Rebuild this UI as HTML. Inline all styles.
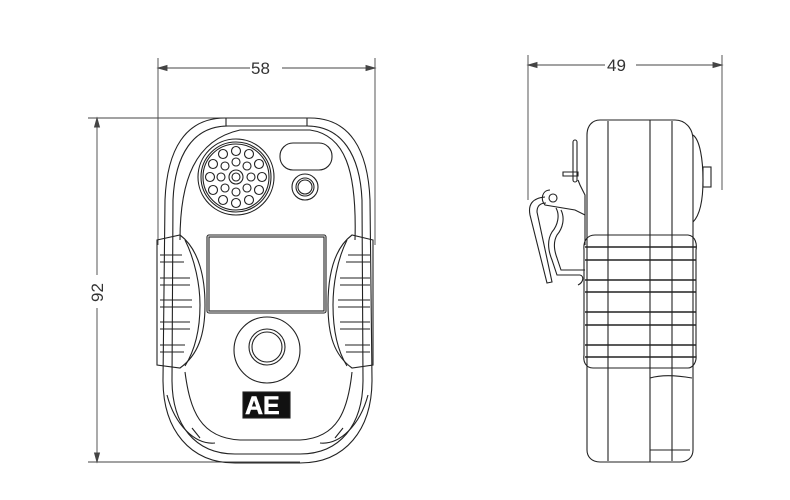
<!DOCTYPE html>
<html><head><meta charset="utf-8"><style>
html,body{margin:0;padding:0;background:#fff;width:790px;height:500px;overflow:hidden}
svg{display:block}
text{font-family:"Liberation Sans",sans-serif;font-size:17px;fill:#333}
</style></head><body>
<svg width="790" height="500" viewBox="0 0 790 500" fill="none" stroke="#222" stroke-width="1.1">
<!-- dimension lines -->
<g stroke="#444" stroke-width="0.9">
<line x1="158" y1="58" x2="158" y2="245"/><line x1="375" y1="58" x2="375" y2="245"/>
<line x1="158" y1="68" x2="250" y2="68"/><line x1="282" y1="68" x2="375" y2="68"/>
<path d="M158 68 l9 -2.5 v5z M375 68 l-9 -2.5 v5z" fill="#444"/>
<line x1="528" y1="55" x2="528" y2="200"/><line x1="722" y1="55" x2="722" y2="190"/>
<line x1="528" y1="65" x2="605" y2="65"/><line x1="636" y1="65" x2="722" y2="65"/>
<path d="M528 65 l9 -2.5 v5z M722 65 l-9 -2.5 v5z" fill="#444"/>
<line x1="88" y1="118" x2="235" y2="118"/><line x1="88" y1="462" x2="300" y2="462"/>
<line x1="97" y1="118" x2="97" y2="275"/><line x1="97" y1="308" x2="97" y2="462"/>
<path d="M97 118 l-2.5 9 h5z M97 462 l-2.5 -9 h5z" fill="#444"/>
</g>
<text x="251" y="74" stroke="none">58</text>
<text x="607" y="71" stroke="none">49</text>
<text x="0" y="0" stroke="none" transform="translate(103 302) rotate(-90)">92</text>

<!-- FRONT VIEW -->
<path d="M225 118 H310 C350 118 368 150 370 200 L372 380 C372 430 345 463 300 463 H235 C190 463 163 430 163 380 L165 200 C167 150 185 118 225 118Z"/>
<path d="M228 126 H307 C342 126 360 155 362 200 L363 380 C363 425 340 454 300 454 H235 C195 454 172 425 172 380 L173 200 C175 155 193 126 228 126Z"/>
<path d="M226 120 v-2 h81 v2 v6 h-81z"/>
<path d="M180 240 C180 180 195 140 240 130 L310 130 C345 135 357 170 355 240"/>
<path d="M185 372 C190 410 200 438 240 440 L300 440 C338 438 348 410 352 372"/>
<path d="M167 395 C175 425 195 445 215 443 M368 395 C360 425 340 445 320 443"/>
<path d="M200 438 l-8 -10 M335 438 l8 -10"/>
<!-- speaker -->
<circle cx="236" cy="177" r="38"/><circle cx="236" cy="177" r="35"/><circle cx="236" cy="177" r="33"/>
<g>
<circle cx="236" cy="177" r="7"/><circle cx="236" cy="177" r="4"/>
<circle cx="236" cy="162" r="4"/><circle cx="236" cy="192" r="4"/><circle cx="221" cy="177" r="4"/><circle cx="251" cy="177" r="4"/>
<circle cx="225" cy="166" r="4"/><circle cx="247" cy="166" r="4"/><circle cx="225" cy="188" r="4"/><circle cx="247" cy="188" r="4"/>
<circle cx="236" cy="151" r="4.5"/><circle cx="236" cy="203" r="4.5"/><circle cx="210" cy="177" r="4.5"/><circle cx="262" cy="177" r="4.5"/>
<circle cx="223" cy="154" r="4.5"/><circle cx="249" cy="154" r="4.5"/><circle cx="223" cy="200" r="4.5"/><circle cx="249" cy="200" r="4.5"/>
<circle cx="213" cy="164" r="4.5"/><circle cx="259" cy="164" r="4.5"/><circle cx="213" cy="190" r="4.5"/><circle cx="259" cy="190" r="4.5"/>
</g>
<rect x="280" y="143" width="52" height="27" rx="13"/>
<circle cx="305" cy="187" r="13"/><circle cx="305" cy="187" r="9"/><circle cx="305" cy="187" r="7"/>
<!-- screen -->
<rect x="207" y="235" width="119" height="78" rx="2"/><rect x="209" y="237" width="115" height="74"/>
<!-- button -->
<circle cx="267" cy="350" r="33"/><circle cx="267" cy="347" r="18"/><circle cx="267" cy="347" r="15"/>
<!-- logo -->
<rect x="243" y="392" width="47" height="26" fill="#111"/>
<text x="245" y="414" stroke="#fff" stroke-width="0.5" style="font-size:25px;font-weight:bold;fill:#fff">AE</text>
<!-- grips -->
<g>
<path d="M157 240 L180 235 C200 250 205 280 205 305 C205 335 198 355 180 368 L157 365 Z"/>
<path d="M160 255 h22 M160 278 h30 M160 300 h32 M160 322 h30 M160 345 h25"/>
<path d="M160 262 h24 M160 285 h30 M160 307 h32 M160 329 h30 M160 352 h24"/>
<path d="M185 240 C195 260 200 285 200 305 C200 330 195 350 185 366"/>
<path d="M373 240 L352 235 C332 250 328 280 328 305 C328 335 334 355 352 368 L373 365 Z"/>
<path d="M370 255 h-22 M370 278 h-30 M370 300 h-32 M370 322 h-30 M370 345 h-25"/>
<path d="M370 262 h-24 M370 285 h-30 M370 307 h-32 M370 329 h-30 M370 352 h-24"/>
<path d="M347 240 C337 260 333 285 333 305 C333 330 337 350 347 366"/>
</g>

<!-- SIDE VIEW -->
<path d="M600 120 H675 C685 120 693 128 693 140 V450 C693 457 688 462 680 462 H600 C592 462 587 457 587 450 V135 C587 126 592 120 600 120Z"/>
<line x1="608" y1="121" x2="608" y2="461"/><line x1="650" y1="120" x2="650" y2="462"/><line x1="672" y1="121" x2="672" y2="461"/>
<path d="M693 135 C700 140 703 160 703 180 C703 200 700 215 693 222"/>
<rect x="703" y="167" width="8" height="20"/>
<path d="M650 378 C660 375 675 375 692 378 M650 450 H690"/>
<!-- grip band -->
<path d="M595 235 H688 C696 236 697 245 696 250 V355 C697 363 692 368 688 368 H593 C586 368 583 362 584 355 V250 C583 240 588 235 595 235Z"/>
<g stroke-width="1.4">
<path d="M585 247 H696 M585 260 H696 M585 280 H696 M585 292 H696 M585 312 H696 M585 325 H696 M585 345 H696 M585 357 H696"/>
</g>
<!-- clip -->
<rect x="573" y="140" width="4" height="42" rx="2"/>
<path d="M563 172 h15 v4 h-15z"/>
<path d="M578 180 L580 185 L585 195 L585 245"/>
<path d="M550 190 C542 190 540 200 545 205 L575 210 L585 215"/>
<circle cx="553" cy="198" r="4"/>
<path d="M545 197 C532 198 528 205 530 215 L547 283 L552 282 L537 212 C537 206 540 203 546 203"/>
<path d="M556 208 C560 215 558 225 552 232 C547 240 548 250 552 260 L557 275 L580 275 C584 276 584 282 578 285"/>
<path d="M561 210 C565 218 563 228 557 235 C553 242 554 250 557 258 L561 270 L585 270"/>
</svg>
</body></html>
